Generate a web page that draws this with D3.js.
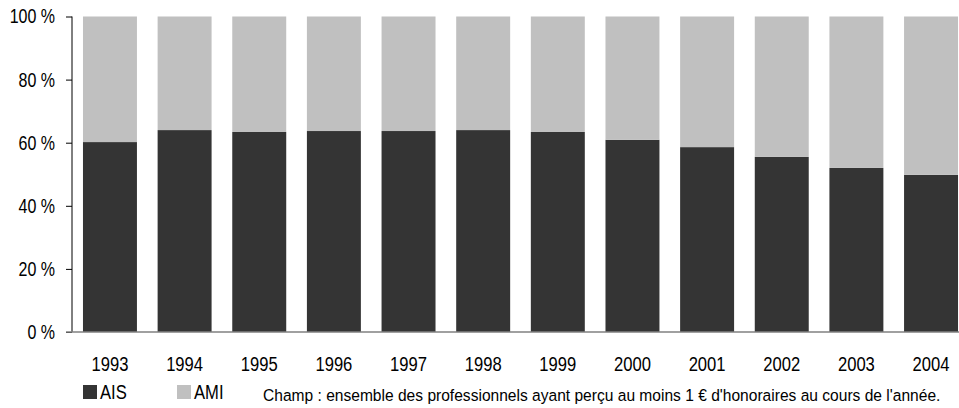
<!DOCTYPE html>
<html>

<head>
    <meta charset='utf-8'>
    <title>AIS / AMI</title>
    <script type='text/javascript' src='https://cdn.jsdelivr.net/npm/d3@7'></script>
    <style>
        body { margin: 0; background: #fff; }
        svg { display: block; font-family: 'Liberation Sans', Arial, sans-serif; }
    </style>
</head>

<body>
    <svg width='959' height='408'></svg>
    <script type='text/javascript'>

        // données (part en %)
        const years = ['1993', '1994', '1995', '1996', '1997', '1998', '1999', '2000', '2001', '2002', '2003', '2004']
        const ais = [60.2, 64.0, 63.4, 63.7, 63.7, 64.0, 63.4, 60.9, 58.6, 55.5, 52.0, 49.8]
        const ami = [39.8, 36.0, 36.6, 36.3, 36.3, 36.0, 36.6, 39.1, 41.4, 44.5, 48.0, 50.2]
        const yTicks = [0, 20, 40, 60, 80, 100]
        const seriesNames = ['AIS', 'AMI']
        const note = "Champ : ensemble des professionnels ayant perçu au moins 1 € d'honoraires au cours de l'année."

        const colors = { AIS: '#343434', AMI: '#c0c0c0' }
        const svg = d3.select('svg')

        // police étroite façon Arial Narrow : on comprime le texte
        function narrow(sel, ratio) {
            sel.each(function () {
                const w = this.getComputedTextLength()
                d3.select(this).attr('textLength', w * ratio).attr('lengthAdjust', 'spacingAndGlyphs')
            })
        }

        const x = d3.scaleBand().domain(years).range([72, 969]).paddingInner(0.277).paddingOuter(0.147)
        const y = d3.scaleLinear().domain([0, 100]).range([332, 16.5])

        const rows = years.map((yr, i) => ({ year: yr, AIS: ais[i], AMI: ami[i] }))
        const stacked = d3.stack().keys(seriesNames)(rows)

        const g = svg.append('g')
        g.selectAll('g.serie').data(stacked).enter().append('g')
            .attr('class', 'serie')
            .attr('fill', d => colors[d.key])
            .selectAll('rect').data(d => d).enter().append('rect')
            .attr('x', d => x(d.data.year))
            .attr('width', x.bandwidth())
            .attr('y', d => y(d[1]))
            .attr('height', d => y(d[0]) - y(d[1]))

        // axe vertical
        const yAxis = svg.append('g').attr('transform', 'translate(72,0)')
            .call(d3.axisLeft(y).tickValues(yTicks).tickSize(6).tickPadding(11).tickFormat(d => d + ' %'))
        yAxis.select('.domain').attr('stroke', '#000').attr('d', `M0,${y(100)}V${y(0)}`)
        yAxis.selectAll('.tick line').attr('stroke', '#000')
        yAxis.selectAll('.tick text').attr('font-size', 20).attr('fill', '#000')
            .attr('font-family', "'Liberation Sans', Arial, sans-serif").call(narrow, 0.8)

        // ligne de base grise
        svg.append('line')
            .attr('x1', 66).attr('x2', 959)
            .attr('y1', y(0)).attr('y2', y(0))
            .attr('stroke', '#808080').attr('stroke-width', 1.5)

        // années
        svg.append('g').selectAll('text').data(years).enter().append('text')
            .attr('x', d => x(d) + x.bandwidth() / 2)
            .attr('y', 371)
            .attr('text-anchor', 'middle')
            .attr('font-size', 20)
            .text(d => d)
            .call(narrow, 0.83)

        // légende
        const legendX = [83, 177]
        const legend = svg.append('g').selectAll('g').data(seriesNames).enter().append('g')
            .attr('transform', (d, i) => `translate(${legendX[i]},385)`)
        legend.append('rect').attr('width', 14).attr('height', 14).attr('fill', d => colors[d])
        legend.append('text').attr('x', 17).attr('y', 14).attr('font-size', 20).text(d => d).call(narrow, 0.83)

        // champ : compressé horizontalement par une mise à l'échelle
        const champ = svg.append('text')
            .attr('font-size', 16.5)
            .text(note)
        const champW = champ.node().getComputedTextLength()
        champ.attr('transform', `translate(263,401) scale(${678 / champW},1)`)

    </script>
</body>

</html>
